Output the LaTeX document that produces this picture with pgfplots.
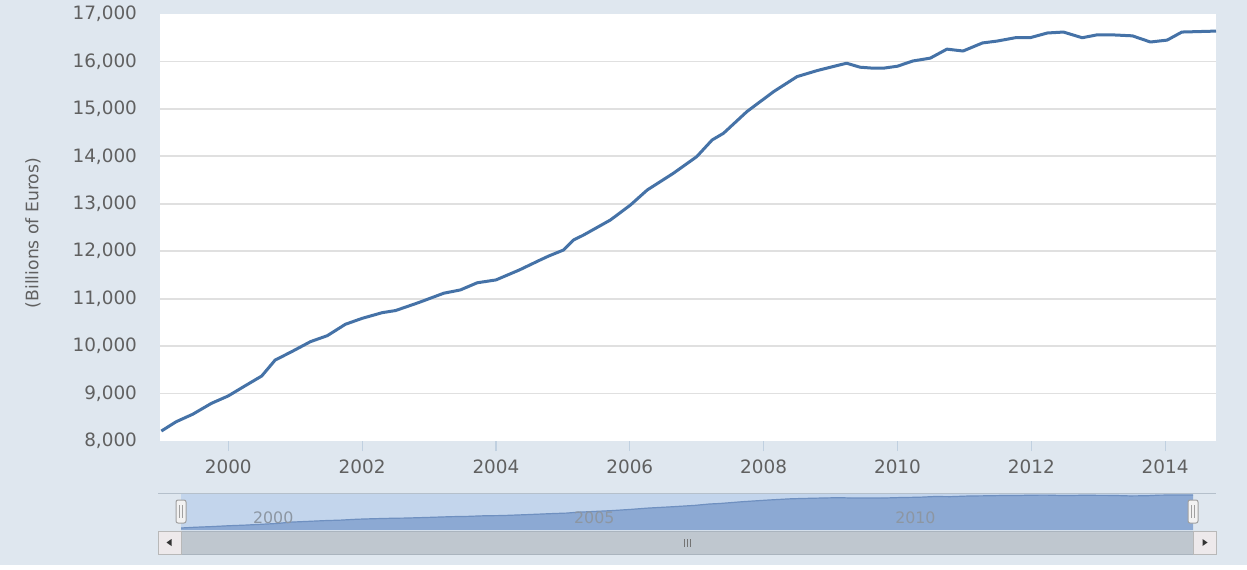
\documentclass[border=0pt]{standalone}
\usepackage{fontspec}
\setmainfont{DejaVu Sans}
\usepackage{pgfplots}
\usepackage{pgfplotstable}
\pgfplotsset{compat=1.18}

\definecolor{bgcol}{HTML}{DFE7EF}
\definecolor{linecol}{HTML}{4572A7}
\definecolor{gridcol}{HTML}{E0E0E0}
\definecolor{tickcol}{HTML}{C0D0E0}
\definecolor{labcol}{HTML}{606060}
\definecolor{navmask}{HTML}{C3D5EC}
\definecolor{navarea}{HTML}{8CA9D3}
\definecolor{navline}{HTML}{6F90C0}
\definecolor{navlab}{HTML}{8C96A2}
\definecolor{navtop}{HTML}{B5C0CB}
\definecolor{barcol}{HTML}{BFC7CF}
\definecolor{barborder}{HTML}{AAB4BE}
\definecolor{btncol}{HTML}{EDE9EB}
\definecolor{btnborder}{HTML}{B8B8B8}
\definecolor{handlefill}{HTML}{F2F2F2}
\definecolor{handleborder}{HTML}{A0A0A0}

% year, billions of euros
\pgfplotstableread{
year value
1999.00 8210
1999.22 8405
1999.47 8565
1999.75 8795
2000.00 8950
2000.23 9145
2000.50 9370
2000.70 9705
2000.95 9885
2001.23 10095
2001.48 10220
2001.75 10460
2002.00 10585
2002.30 10705
2002.50 10750
2002.84 10915
2003.22 11115
2003.47 11185
2003.72 11335
2004.00 11395
2004.35 11605
2004.66 11815
2004.79 11900
2005.01 12026
2005.16 12237
2005.31 12342
2005.71 12658
2006.01 12974
2006.26 13290
2006.65 13642
2007.00 13993
2007.23 14345
2007.40 14486
2007.75 14943
2008.15 15365
2008.50 15681
2008.80 15808
2009.04 15893
2009.24 15963
2009.44 15879
2009.62 15860
2009.80 15860
2010.00 15900
2010.23 16010
2010.49 16070
2010.74 16260
2010.98 16220
2011.27 16390
2011.49 16430
2011.76 16500
2011.98 16500
2012.24 16600
2012.48 16620
2012.76 16500
2012.98 16560
2013.22 16560
2013.51 16540
2013.78 16410
2014.03 16450
2014.25 16620
2014.76 16640
}\debt

\begin{document}
\begin{tikzpicture}
\fill[bgcol] (0pt,0pt) rectangle (623.5pt,284.5pt);
\fill[white] (0pt,0pt) rectangle (623.5pt,2pt);

% main chart
\begin{axis}[
    at={(80pt,64pt)}, anchor=south west,
    width=528pt, height=213.5pt, scale only axis,
    xmin=1998.98, xmax=2014.76,
    ymin=8000, ymax=17000,
    xtick={2000,2002,...,2014},
    ytick={9000,10000,...,16000},
    extra y ticks={8000,17000},
    extra y tick style={grid=none},
    scaled y ticks=false,
    axis background/.style={fill=white},
    axis line style={draw=none},
    ymajorgrids,
    grid style={color=gridcol, line width=0.9pt},
    xtick pos=bottom, ytick pos=left,
    tick align=outside, major tick length=5pt,
    xtick style={color=tickcol, line width=0.6pt},
    ytick style={draw=none},
    /pgf/number format/assume math mode=true,
    ticklabel style={font=\fontsize{9.2}{11}\selectfont, text=labcol},
    yticklabel style={anchor=east, xshift=-3pt, /pgf/number format/.cd, fixed, 1000 sep={,}},
    xticklabel style={anchor=center, yshift=-8pt, /pgf/number format/1000 sep={}},
]
\addplot[color=linecol, line width=1.5pt, line join=round] table[x=year, y=value] {\debt};
\end{axis}

% navigator
\begin{axis}[
    at={(90.5pt,19.5pt)}, anchor=south west,
    width=506pt, height=18pt, scale only axis,
    xmin=1999, xmax=2014.76,
    ymin=7700, ymax=16900,
    axis on top,
    axis background/.style={fill=navmask},
    axis line style={draw=none},
    ytick=\empty,
    xtick={2000,2005,2010},
    major tick length=0pt,
    xtick style={draw=none},
    /pgf/number format/assume math mode=true,
    xticklabel style={anchor=center, xshift=14pt, yshift=6pt,
        font=\fontsize{7.9}{9}\selectfont, text=navlab,
        /pgf/number format/1000 sep={}},
]
\addplot[fill=navarea, draw=none] table[x=year, y=value] {\debt} \closedcycle;
\addplot[color=navline, line width=0.6pt] table[x=year, y=value] {\debt};
\end{axis}

% y label, navigator frame and scrollbar (pixel units)
\begin{scope}[x=0.5pt, y=-0.5pt, shift={(0pt,284.5pt)}]
  \node[rotate=90, font=\fontsize{8.6}{10}\selectfont, text=labcol] at (33,233) {(Billions of Euros)};
  \draw[navtop, line width=0.5pt] (158,493) -- (1216,493);
  \filldraw[fill=barcol, draw=barborder, line width=0.5pt] (181,531) rectangle (1193,554);
  \filldraw[fill=btncol, draw=btnborder, line width=0.5pt] (158,531) rectangle (181,554);
  \filldraw[fill=btncol, draw=btnborder, line width=0.5pt] (1193,531) rectangle (1216,554);
  \fill[black!80] (166.5,542.5) -- (171.5,539) -- (171.5,546) -- cycle;
  \fill[black!80] (1207.5,542.5) -- (1202.5,539) -- (1202.5,546) -- cycle;
  \draw[black!55, line width=0.5pt] (684,539) -- (684,547) (687,539) -- (687,547) (690,539) -- (690,547);
  \foreach \hx in {181,1193} {
    \filldraw[fill=handlefill, draw=handleborder, line width=0.5pt, rounded corners=1pt]
      (\hx-5,500) rectangle (\hx+5,523);
    \draw[handleborder, line width=0.4pt] (\hx-1.5,505) -- (\hx-1.5,518) (\hx+1.5,505) -- (\hx+1.5,518);
  }
\end{scope}
\pgfresetboundingbox
\useasboundingbox (0pt,0pt) rectangle (623.5pt,284.5pt);
\end{tikzpicture}
\end{document}
